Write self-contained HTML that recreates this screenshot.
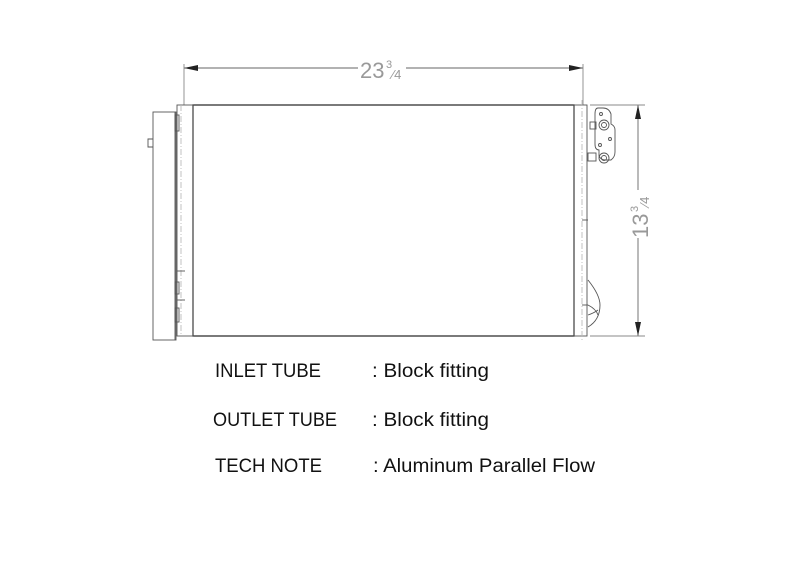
<!DOCTYPE html>
<html><head><meta charset="utf-8"><style>
html,body{margin:0;padding:0;background:#fff;}
svg{display:block;}
</style></head><body>
<svg width="800" height="565" viewBox="0 0 800 565" xmlns="http://www.w3.org/2000/svg">
<g fill="none" stroke="#555" stroke-width="0.9">
<line x1="184" y1="68" x2="583" y2="68" stroke="#666"/>
<line x1="184" y1="64" x2="184" y2="105" stroke="#888"/>
<line x1="583" y1="64" x2="583" y2="105" stroke="#888"/>
<polygon points="184,68 198,65 198,71" fill="#222" stroke="none"/>
<polygon points="583,68 569,65 569,71" fill="#222" stroke="none"/>
<rect x="193" y="105" width="381" height="231" stroke="#333" stroke-width="1.3"/>
<rect x="177" y="105" width="16" height="231"/>
<line x1="181" y1="105" x2="181" y2="336" stroke="#bbb" stroke-dasharray="6,2,1,2"/>
<rect x="153" y="112" width="23" height="228"/>
<line x1="175" y1="112" x2="175" y2="340"/>
<rect x="175" y="115" width="4" height="16"/>
<rect x="175" y="282" width="4" height="12"/>
<rect x="175" y="308" width="4" height="14"/>
<line x1="177" y1="271" x2="185" y2="271"/>
<line x1="177" y1="300" x2="185" y2="300"/>
<path d="M153,139 h-5 v8 h5"/>
<rect x="574" y="105" width="13" height="231"/>
<line x1="582" y1="100" x2="582" y2="340" stroke="#bbb" stroke-dasharray="6,2,1,2"/>
<line x1="582" y1="220" x2="588" y2="220"/>
<line x1="582" y1="305" x2="588" y2="305"/>
<path d="M598,108 q-3,0 -3,6 v30 q0,6 4,6 v6 q2,4 6,4 h6 q4,-3 4,-8 v-22 q0,-4 -4,-6 v-10 q-2,-6 -8,-6z"/>
<circle cx="604" cy="125" r="5"/><circle cx="604" cy="125" r="2.5"/>
<circle cx="604" cy="158" r="5"/><circle cx="604" cy="158" r="2.5"/>
<circle cx="601" cy="114" r="1.5"/><circle cx="610" cy="139" r="1.5"/><circle cx="600" cy="145" r="1.5"/>
<rect x="588" y="153" width="8" height="8"/>
<rect x="590" y="122" width="6" height="7"/>
<path d="M588,280 q12,15 12,25 q0,15 -12,22"/>
<path d="M588,305 q8,4 10,10 M588,315 q6,-2 10,-5"/>
<line x1="638" y1="105" x2="638" y2="336" stroke="#666"/>
<line x1="590" y1="105" x2="645" y2="105" stroke="#888"/>
<line x1="590" y1="336" x2="645" y2="336" stroke="#888"/>
<polygon points="638,105 635,119 641,119" fill="#222" stroke="none"/>
<polygon points="638,336 635,322 641,322" fill="#222" stroke="none"/>
</g>
<rect x="358" y="56" width="48" height="24" fill="#fff"/>
<text x="360" y="78" font-family="Liberation Sans, sans-serif" font-size="22" fill="#999">23</text>
<text x="386" y="68" font-family="Liberation Sans, sans-serif" font-size="11" fill="#999">3</text>
<text x="392" y="79" font-family="Liberation Sans, sans-serif" font-size="13" fill="#999">⁄4</text>
<rect x="626" y="190" width="24" height="48" fill="#fff"/>
<g transform="translate(648,238) rotate(-90)">
<text x="0" y="0" font-family="Liberation Sans, sans-serif" font-size="22" fill="#999">13</text>
<text x="26" y="-10" font-family="Liberation Sans, sans-serif" font-size="11" fill="#999">3</text>
<text x="32" y="1" font-family="Liberation Sans, sans-serif" font-size="13" fill="#999">⁄4</text>
</g>
<g font-family="Liberation Sans, sans-serif" font-size="19" fill="#111">
<text x="215" y="377" textLength="106" lengthAdjust="spacingAndGlyphs">INLET TUBE</text>
<text x="372" y="377" textLength="117" lengthAdjust="spacingAndGlyphs">: Block fitting</text>
<text x="213" y="426" textLength="124" lengthAdjust="spacingAndGlyphs">OUTLET TUBE</text>
<text x="372" y="426" textLength="117" lengthAdjust="spacingAndGlyphs">: Block fitting</text>
<text x="215" y="472" textLength="107" lengthAdjust="spacingAndGlyphs">TECH NOTE</text>
<text x="373" y="472" textLength="222" lengthAdjust="spacingAndGlyphs">: Aluminum Parallel Flow</text>
</g>
</svg>
</body></html>
